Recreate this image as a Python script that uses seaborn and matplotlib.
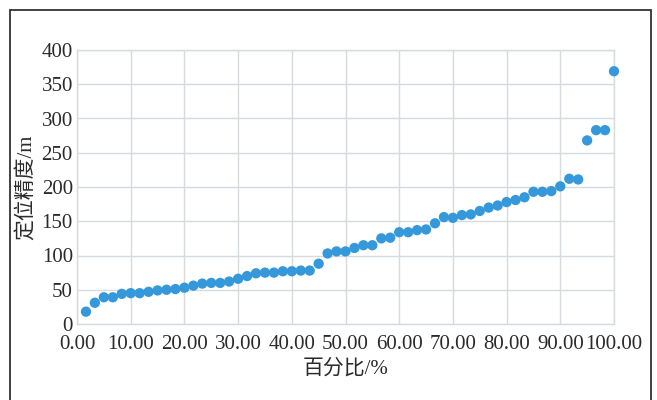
import matplotlib
matplotlib.use("Agg")
import matplotlib.pyplot as plt
import seaborn as sns
import pandas as pd
from matplotlib.patches import Rectangle
from matplotlib.ticker import FormatStrFormatter

# percentage of samples (x) and positioning accuracy in metres (y)
percent = [1.67, 3.33, 5.00, 6.67, 8.33, 10.00, 11.67, 13.33, 15.00, 16.67,
           18.33, 20.00, 21.67, 23.33, 25.00, 26.67, 28.33, 30.00, 31.67, 33.33,
           35.00, 36.67, 38.33, 40.00, 41.67, 43.33, 45.00, 46.67, 48.33, 50.00,
           51.67, 53.33, 55.00, 56.67, 58.33, 60.00, 61.67, 63.33, 65.00, 66.67,
           68.33, 70.00, 71.67, 73.33, 75.00, 76.67, 78.33, 80.00, 81.67, 83.33,
           85.00, 86.67, 88.33, 90.00, 91.67, 93.33, 95.00, 96.67, 98.33, 100.00]
accuracy = [18, 31, 39, 39, 44, 45, 45, 47, 49, 50,
            51, 53, 56, 59, 60, 60, 62, 66, 70, 74,
            75, 75, 77, 77, 78, 78, 88, 103, 106, 106,
            111, 115, 115, 125, 126, 134, 134, 137, 138, 147,
            156, 155, 159, 160, 165, 170, 173, 178, 181, 185,
            193, 193, 194, 201, 212, 211, 268, 283, 283, 369]

xticks = [0, 10, 20, 30, 40, 50, 60, 70, 80, 90, 100]
yticks = [0, 50, 100, 150, 200, 250, 300, 350, 400]
xlabel = "百分比/%"
ylabel = "定位精度/m"

sns.set_theme(style="whitegrid")
plt.rcParams['font.family'] = ['Liberation Serif', 'Noto Sans CJK SC']

df = pd.DataFrame({"percent": percent, "accuracy": accuracy})

fig = plt.figure(figsize=(6.57, 4.0), dpi=100)
ax = fig.add_axes([77 / 657, 1 - 324 / 400, (614 - 77) / 657, (324 - 50) / 400])

sns.scatterplot(data=df, x="percent", y="accuracy", ax=ax, color="#3498db",
                s=55, edgecolor="none", clip_on=False, zorder=3)

grid_col = "#d6dbdf"
ax.set_xlim(0, 100)
ax.set_ylim(0, 400)
ax.set_xticks(xticks)
ax.set_yticks(yticks)
ax.xaxis.set_major_formatter(FormatStrFormatter("%.2f"))
ax.grid(True, color=grid_col, linewidth=1.0)
for sp in ax.spines.values():
    sp.set_color(grid_col)
    sp.set_linewidth(1.0)
ax.tick_params(axis="both", length=0, labelsize=15, colors="#2a2a2a")
ax.tick_params(axis="x", pad=8)
ax.tick_params(axis="y", pad=3)
ax.set_xlabel(xlabel, fontsize=15, color="#2a2a2a", labelpad=4)
ax.set_ylabel(ylabel, fontsize=15, color="#2a2a2a", labelpad=3)

# outer frame around the chart
fig.patches.append(Rectangle((10 / 657, -0.05), 641 / 657, 1.05 - 10 / 400,
                             transform=fig.transFigure, fill=False,
                             edgecolor="#333333", linewidth=1.3))

fig.savefig("out.png", dpi=100)
plt.close(fig)
